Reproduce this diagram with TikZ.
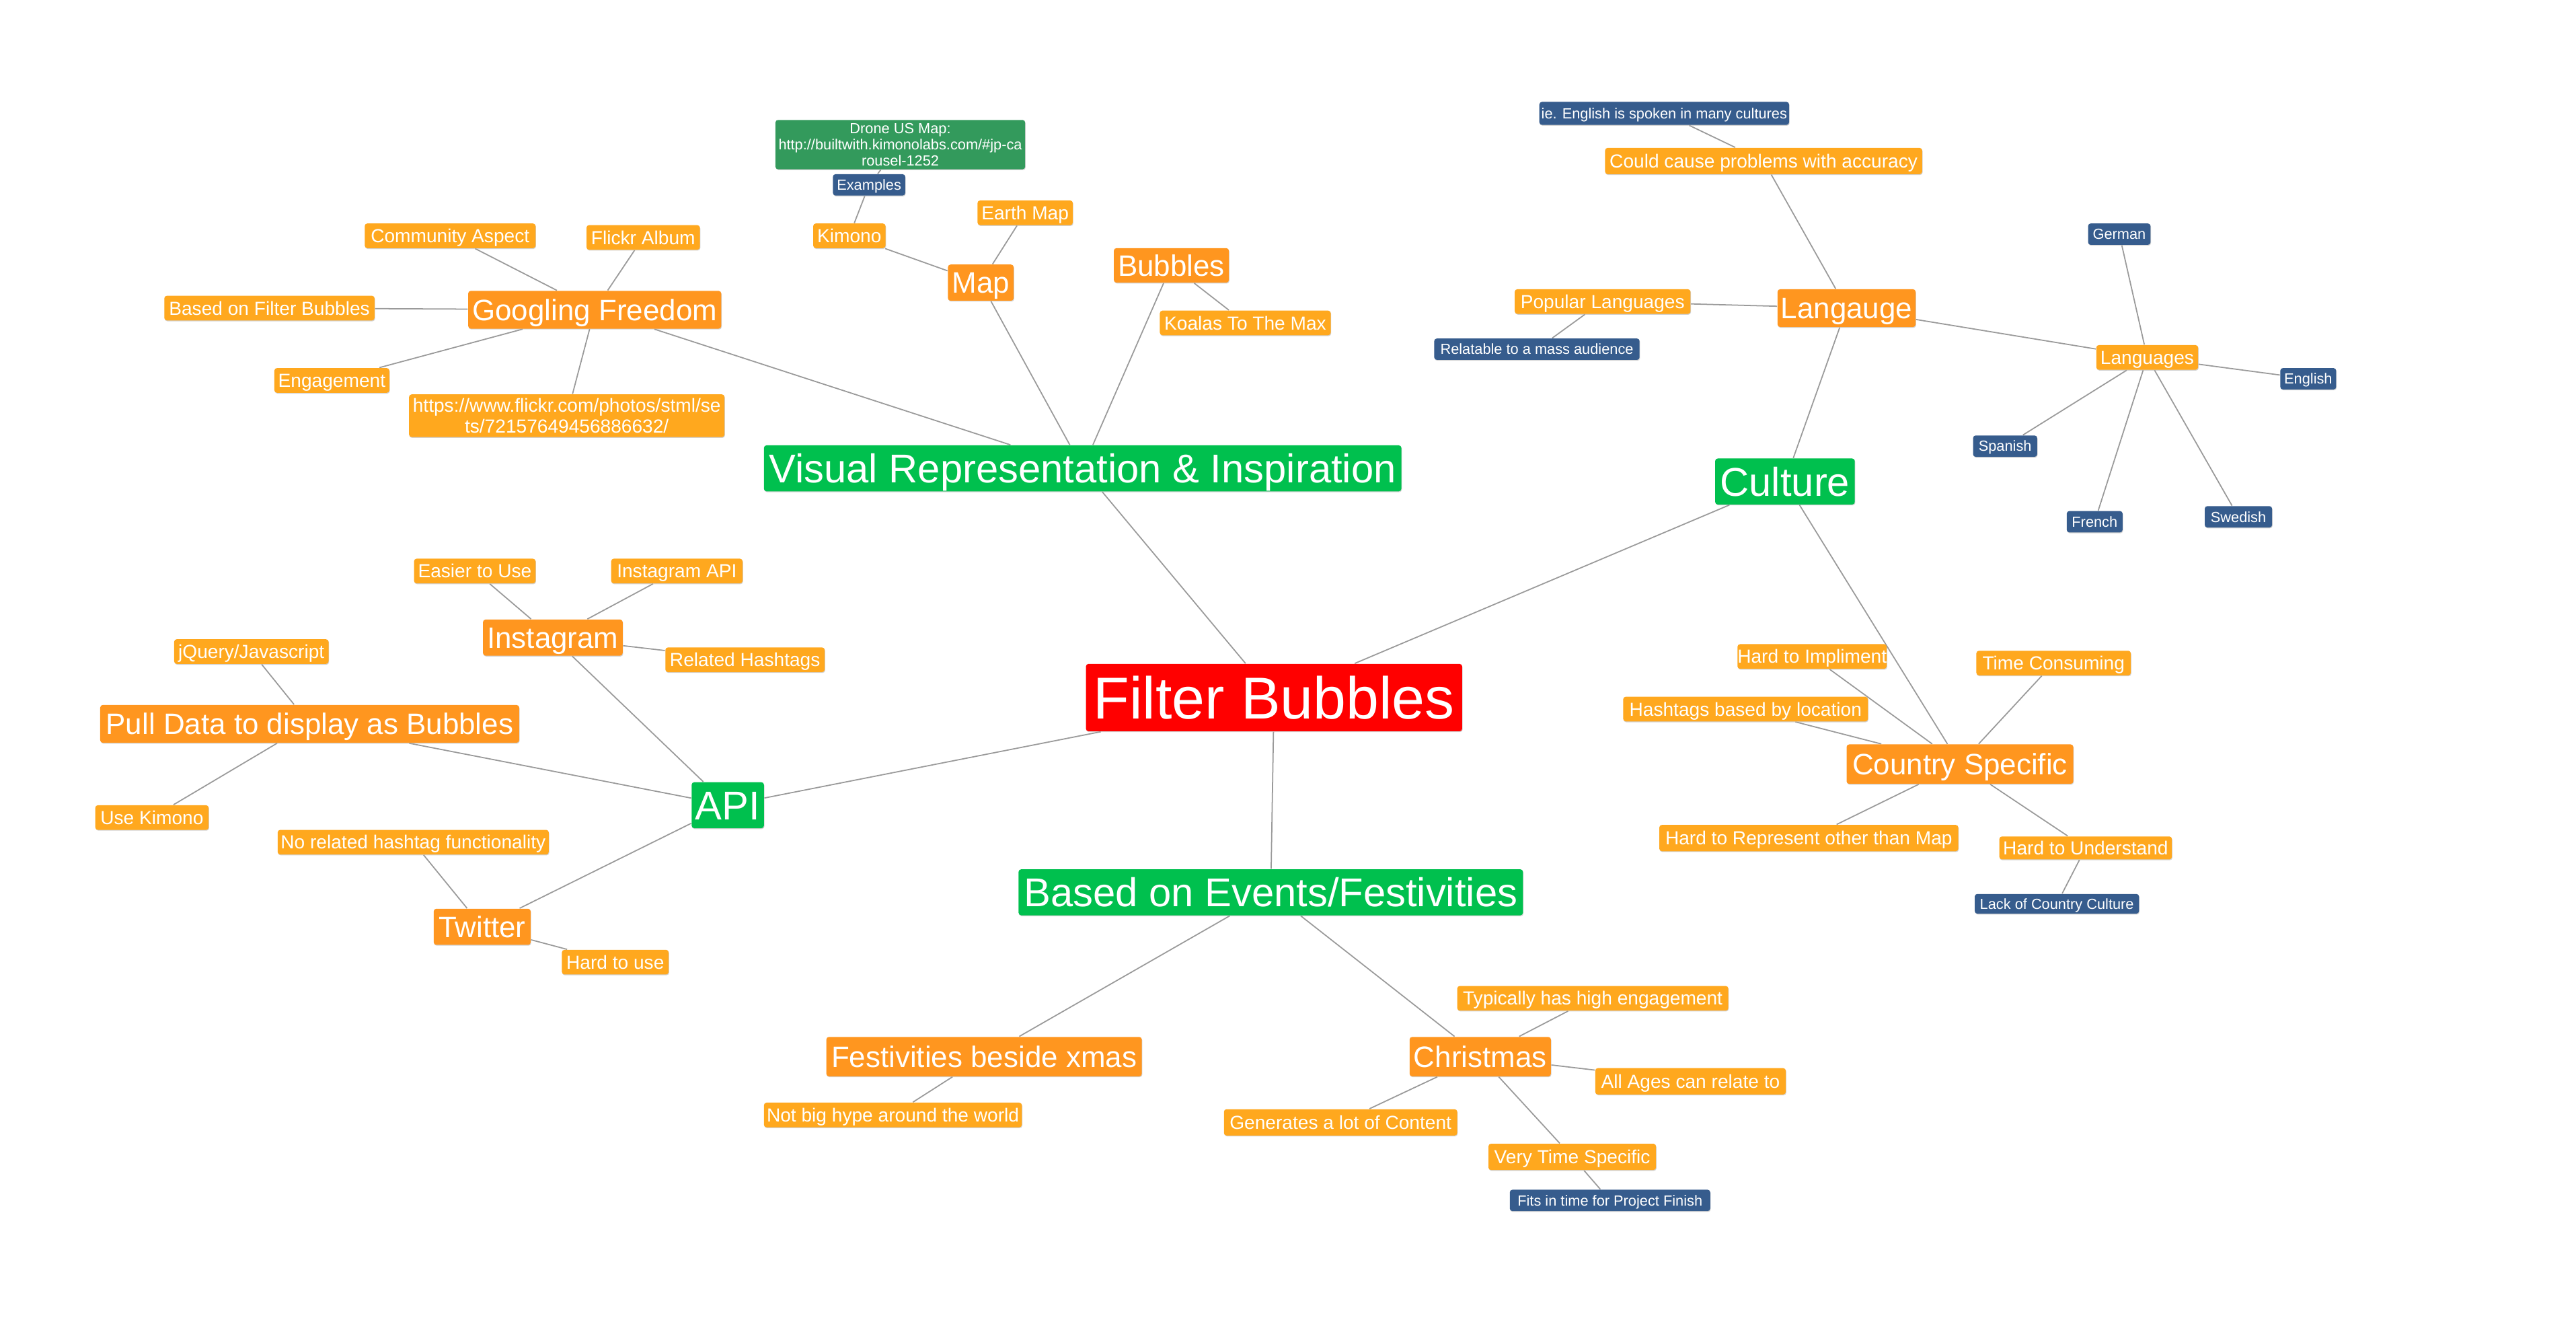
\documentclass[tikz,border=0pt]{standalone}
\usepackage{fontspec}
\setmainfont{Liberation Sans}
\usetikzlibrary{backgrounds,shadows}
\definecolor{fbred}{HTML}{FF0000}
\definecolor{grnc}{HTML}{00C04E}
\definecolor{orD}{HTML}{FF961F}
\definecolor{orL}{HTML}{FFA81E}
\definecolor{bluc}{HTML}{365C8D}
\definecolor{drn}{HTML}{339A5C}
\definecolor{edgec}{HTML}{9A9A9A}
\newcommand\bx[7]{\node[#1, minimum width={(#5-#3)*0.024426cm}, minimum height={(#6-#4)*0.024426cm}] (#2) at ({(#3+#5)/2},{(#4+#6)/2}) {#7};}
\tikzset{
  box/.style={inner sep=0pt, text=white, rounded corners=1.1pt,
    drop shadow={shadow xshift=0.2pt, shadow yshift=-0.35pt, fill=black!35, opacity=0.5}},
  fbx/.style={box, fill=fbred, font=\fontsize{25}{30}\selectfont, text height=17.9pt, text depth=0pt},
  gbx/.style={box, fill=grnc, font=\fontsize{17}{20}\selectfont, text height=12.2pt, text depth=0pt},
  mbx/.style={box, fill=orD, font=\fontsize{12.5}{15}\selectfont, text height=9pt, text depth=0pt},
  sbx/.style={box, fill=orL, font=\fontsize{8}{9.6}\selectfont, text height=5.75pt, text depth=0pt},
  bbx/.style={box, fill=bluc, font=\fontsize{6.2}{7.4}\selectfont, text height=4.45pt, text depth=0pt},
  ubx/.style={box, fill=orL, font=\fontsize{8}{8.6}\selectfont, align=center},
  dbx/.style={box, fill=drn, font=\fontsize{6.2}{6.8}\selectfont, align=center},
  link/.style={draw=edgec, line width=0.5pt}
}
\begin{document}
\begin{tikzpicture}[x=0.024426cm, y=-0.024426cm]
\useasboundingbox (0,0) rectangle (1568,805.7);
% central
\bx{fbx}{fb}{661}{404}{890}{445}{Filter Bubbles}
% main branches
\bx{gbx}{vis}{465}{271}{853}{299}{Visual Representation \& Inspiration}
\bx{gbx}{cul}{1044}{279}{1129}{307}{Culture}
\bx{gbx}{api}{421}{476}{465}{504}{API}
\bx{gbx}{evt}{620}{529}{927}{557}{Based on Events/Festivities}
% medium
\bx{mbx}{gf}{285}{177}{439}{200}{Googling Freedom}
\bx{mbx}{map}{577}{161}{617}{183}{Map}
\bx{mbx}{bub}{678}{151}{748}{172}{Bubbles}
\bx{mbx}{lang}{1082}{176}{1166}{199}{Langauge}
\bx{mbx}{cs}{1124}{453}{1262}{477}{Country Specific}
\bx{mbx}{insta}{294}{377}{379}{399}{Instagram}
\bx{mbx}{pull}{61}{429}{316}{452}{Pull Data to display as Bubbles}
\bx{mbx}{tw}{264}{553}{323}{575}{Twitter}
\bx{mbx}{fest}{503}{631}{695}{655}{Festivities beside xmas}
\bx{mbx}{xmas}{858}{631}{944}{655}{Christmas}
% small orange
\bx{sbx}{comm}{222}{136}{326}{151}{Community Aspect}
\bx{sbx}{flickr}{357}{137}{426}{152}{Flickr Album}
\bx{sbx}{bofb}{100}{180}{228}{195}{Based on Filter Bubbles}
\bx{sbx}{eng}{167}{224}{237}{239}{Engagement}
\bx{sbx}{kim}{495}{136}{539}{151}{Kimono}
\bx{sbx}{earth}{595}{122}{653}{137}{Earth Map}
\bx{sbx}{koala}{706}{189}{810}{204}{Koalas To The Max}
\bx{sbx}{could}{977}{90}{1170}{106}{Could cause problems with accuracy}
\bx{sbx}{pop}{922}{176}{1029}{191}{Popular Languages}
\bx{sbx}{langs}{1276}{210}{1338}{225}{Languages}
\bx{sbx}{hti}{1067}{392}{1139}{407}{Hard to Impliment}
\bx{sbx}{tc}{1203}{396}{1297}{411}{Time Consuming}
\bx{sbx}{hbl}{988}{424}{1137}{439}{Hashtags based by location}
\bx{sbx}{htr}{1010}{502}{1192}{518}{Hard to Represent other than Map}
\bx{sbx}{htu}{1217}{509}{1322}{523}{Hard to Understand}
\bx{sbx}{easier}{252}{340}{326}{355}{Easier to Use}
\bx{sbx}{iapi}{372}{340}{452}{355}{Instagram API}
\bx{sbx}{rh}{405}{394}{502}{409}{Related Hashtags}
\bx{sbx}{jq}{106}{389}{200}{404}{jQuery/Javascript}
\bx{sbx}{uk}{58}{490}{127}{505}{Use Kimono}
\bx{sbx}{nrh}{169}{505}{334}{520}{No related hashtag functionality}
\bx{sbx}{htuse}{342}{578}{407}{593}{Hard to use}
\bx{sbx}{nbh}{465}{671}{622}{686}{Not big hype around the world}
\bx{sbx}{typ}{887}{600}{1052}{615}{Typically has high engagement}
\bx{sbx}{allages}{971}{650}{1087}{666}{All Ages can relate to}
\bx{sbx}{gen}{745}{675}{887}{691}{Generates a lot of Content}
\bx{sbx}{vts}{906}{696}{1008}{712}{Very Time Specific}
% blue
\bx{bbx}{ex}{507}{106}{551}{119}{Examples}
\bx{bbx}{ie}{937}{62}{1089}{76}{ie. English is spoken in many cultures}
\bx{bbx}{rel}{873}{206}{998}{219}{Relatable to a mass audience}
\bx{bbx}{ger}{1271}{136}{1309}{149}{German}
\bx{bbx}{engl}{1388}{224}{1422}{237}{English}
\bx{bbx}{spa}{1201}{265}{1240}{278}{Spanish}
\bx{bbx}{fre}{1258}{311}{1292}{324}{French}
\bx{bbx}{swe}{1342}{308}{1383}{321}{Swedish}
\bx{bbx}{lack}{1202}{544}{1302}{556}{Lack of Country Culture}
\bx{bbx}{fits}{919}{724}{1041}{737}{Fits in time for Project Finish}
% multi-line
\bx{ubx}{url}{249}{240}{441}{266}{https://www.flickr.com/photos/stml/se\\ts/72157649456886632/}
\bx{dbx}{drone}{472}{73}{624}{103}{Drone US Map:\\http://builtwith.kimonolabs.com/\#jp-ca\\rousel-1252}
% connectors
\begin{scope}[on background layer]
\fill[white] (0,0) rectangle (1568,805.7);
\draw[link] (fb) -- (vis);
\draw[link] (fb) -- (cul);
\draw[link] (fb) -- (api);
\draw[link] (fb) -- (evt);
\draw[link] (vis) -- (gf);
\draw[link] (vis) -- (map);
\draw[link] (vis) -- (bub);
\draw[link] (gf) -- (comm);
\draw[link] (gf) -- (flickr);
\draw[link] (gf) -- (bofb);
\draw[link] (gf) -- (eng);
\draw[link] (gf) -- (url);
\draw[link] (map) -- (kim);
\draw[link] (map) -- (earth);
\draw[link] (kim) -- (ex);
\draw[link] (ex) -- (drone);
\draw[link] (bub) -- (koala);
\draw[link] (cul) -- (lang);
\draw[link] (cul) -- (cs);
\draw[link] (lang) -- (could);
\draw[link] (could) -- (ie);
\draw[link] (lang) -- (pop);
\draw[link] (pop) -- (rel);
\draw[link] (lang) -- (langs);
\draw[link] (langs) -- (ger);
\draw[link] (langs) -- (engl);
\draw[link] (langs) -- (spa);
\draw[link] (langs) -- (fre);
\draw[link] (langs) -- (swe);
\draw[link] (cs) -- (hti);
\draw[link] (cs) -- (tc);
\draw[link] (cs) -- (hbl);
\draw[link] (cs) -- (htr);
\draw[link] (cs) -- (htu);
\draw[link] (htu) -- (lack);
\draw[link] (api) -- (insta);
\draw[link] (api) -- (pull);
\draw[link] (api) -- (tw);
\draw[link] (insta) -- (easier);
\draw[link] (insta) -- (iapi);
\draw[link] (insta) -- (rh);
\draw[link] (pull) -- (jq);
\draw[link] (pull) -- (uk);
\draw[link] (tw) -- (nrh);
\draw[link] (tw) -- (htuse);
\draw[link] (evt) -- (fest);
\draw[link] (evt) -- (xmas);
\draw[link] (fest) -- (nbh);
\draw[link] (xmas) -- (typ);
\draw[link] (xmas) -- (allages);
\draw[link] (xmas) -- (gen);
\draw[link] (xmas) -- (vts);
\draw[link] (vts) -- (fits);
\end{scope}
\end{tikzpicture}
\end{document}
